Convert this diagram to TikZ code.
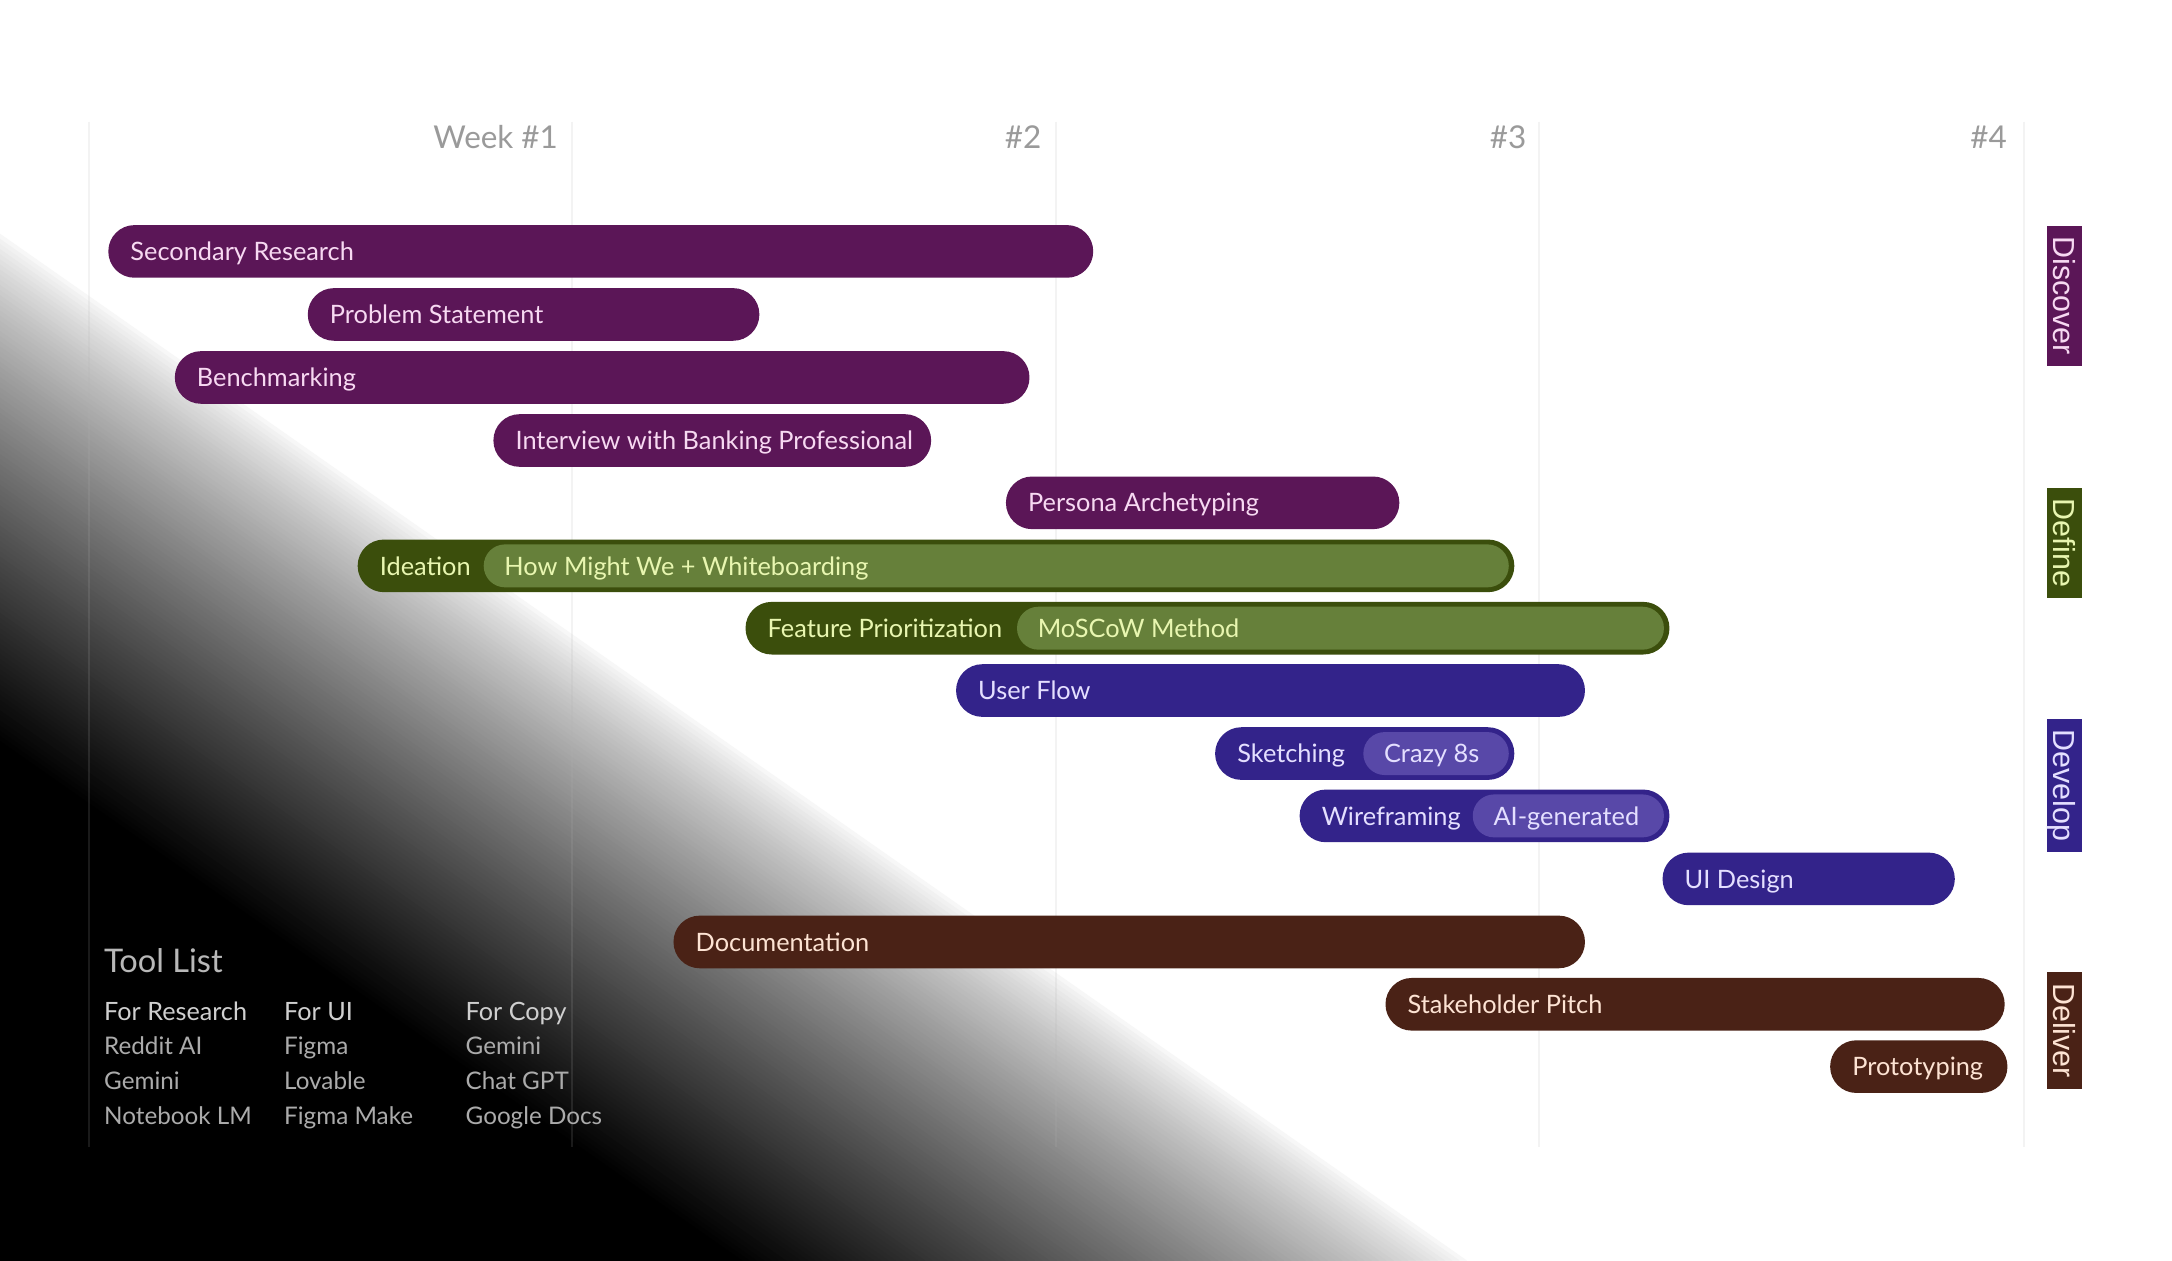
\documentclass[tikz,border=0pt]{standalone}
\usepackage{fontspec}
\setmainfont{Lato}
\newfontfamily\tagfont{Liberation Sans}
\usepackage{xcolor}
\definecolor{discover}{HTML}{5B1657}
\definecolor{discovertext}{HTML}{F7D9F2}
\definecolor{define}{HTML}{3B4E0C}
\definecolor{definelight}{HTML}{66803A}
\definecolor{definetext}{HTML}{E8F6B0}
\definecolor{develop}{HTML}{33238A}
\definecolor{developlight}{HTML}{5848A8}
\definecolor{developtext}{HTML}{E4DFFF}
\definecolor{deliver}{HTML}{4A2216}
\definecolor{delivertext}{HTML}{FDE3D3}
\definecolor{weekgray}{HTML}{9A9A9A}
\definecolor{tooltitle}{HTML}{B8B8B8}
\definecolor{toolhead}{HTML}{CFCFCF}
\definecolor{toolitem}{HTML}{ABABAB}
\tikzset{
  bar/.style={rounded corners=18.9pt,minimum height=38pt,inner xsep=16pt,inner ysep=0pt,anchor=west,text height=13.2pt,text depth=0pt,font=\fontsize{18.3}{18}\selectfont},
  discbar/.style={bar,fill=discover,text=discovertext},
  defbar/.style={bar,fill=define,text=definetext},
  devbar/.style={bar,fill=develop,text=developtext},
  delbar/.style={bar,fill=deliver,text=delivertext},
  method/.style={rounded corners=15.4pt,minimum height=31pt,inner xsep=15pt,inner ysep=0pt,anchor=east,text height=13.2pt,text depth=0pt,font=\fontsize{18.3}{18}\selectfont},
  phase/.style={rotate=-90,minimum height=25pt,inner sep=0pt,text height=15.8pt,text depth=0pt,font=\tagfont\fontsize{22}{22}\selectfont},
  week/.style={anchor=base east,inner sep=0pt,text=weekgray,font=\fontsize{22.7}{22}\selectfont},
  tool/.style={anchor=base west,inner sep=0pt,text=toolitem,font=\fontsize{17.5}{17}\selectfont},
  toolhead/.style={tool,text=toolhead,font=\fontsize{18.2}{18}\selectfont},
  weekline/.style={line width=1.5pt,draw=gray!60,opacity=.15}
}

\begin{document}
\begin{tikzpicture}[x=1pt,y=-1pt]
    \useasboundingbox[fill=white] (0,0) rectangle (1568,910);
    % dark corner, bottom left
    \foreach \i [evaluate=\i as \k using {100*(\i/100)^0.75}] in {1,...,100}
      \fill[black!\k!white] (0,{165+3.7*\i}) -- ({(745-3.7*\i)/0.7},910) -- (0,910) -- cycle;
    % weeks
    \draw[weekline] (64,88) -- (64,828);
    \draw[weekline] (413,88) -- (413,828);
    \draw[weekline] (762,88) -- (762,828);
    \draw[weekline] (1111,88) -- (1111,828);
    \draw[weekline] (1461,88) -- (1461,828);
    \node[week] (w1) at (403,107) {Week \#1};
    \node[week] (w2) at (752,107) {\#2};
    \node[week] (w3) at (1102,107) {\#3};
    \node[week] (w4) at (1449,107) {\#4};
    % discover
    \node[discbar] (secondary) at (78,181.5) {\makebox[679pt][l]{Secondary Research}};
    \node[discbar] (problem) at (222,227) {\makebox[294pt][l]{Problem Statement}};
    \node[discbar] (bench) at (126,272.5) {\makebox[585pt][l]{Benchmarking}};
    \node[discbar] (interview) at (356,318) {\makebox[284pt][l]{Interview with Banking Professional}};
    \node[discbar] (persona) at (726,363) {\makebox[252pt][l]{Persona Archetyping}};
    % define
    \node[defbar] (ideation) at (258,408.5) {\makebox[803pt][l]{Ideation}};
    \node[method,fill=definelight,text=definetext] (hmw) at ([xshift=-4pt]ideation.east) {\makebox[710pt][l]{How Might We + Whiteboarding}};
    \node[defbar] (feature) at (538,453.5) {\makebox[635pt][l]{Feature Prioritization}};
    \node[method,fill=definelight,text=definetext] (moscow) at ([xshift=-4pt]feature.east) {\makebox[437pt][l]{MoSCoW Method}};
    % develop
    \node[devbar] (userflow) at (690,498.5) {\makebox[422pt][l]{User Flow}};
    \node[devbar] (sketch) at (877,544) {\makebox[184pt][l]{Sketching}};
    \node[method,fill=developlight,text=developtext] (crazy) at ([xshift=-4pt]sketch.east) {\makebox[75pt][l]{Crazy 8s}};
    \node[devbar] (wire) at (938,589) {\makebox[235pt][l]{Wireframing}};
    \node[method,fill=developlight,text=developtext] (aigen) at ([xshift=-4pt]wire.east) {\makebox[108pt][l]{AI-generated}};
    \node[devbar] (uidesign) at (1200,634.5) {\makebox[179pt][l]{UI Design}};
    % deliver
    \node[delbar] (docs) at (486,680) {\makebox[626pt][l]{Documentation}};
    \node[delbar] (pitch) at (1000,725) {\makebox[415pt][l]{Stakeholder Pitch}};
    \node[delbar] (proto) at (1321,770) {\makebox[96pt][l]{Prototyping}};
    % phases
    \node[phase,fill=discover,text=discovertext,minimum width=101pt] (pdiscover) at (1490.5,213.5) {Discover};
    \node[phase,fill=define,text=definetext,minimum width=80pt] (pdefine) at (1490.5,392) {Define};
    \node[phase,fill=develop,text=developtext,minimum width=96pt] (pdevelop) at (1490.5,567) {Develop};
    \node[phase,fill=deliver,text=delivertext,minimum width=84pt] (pdeliver) at (1490.5,744) {Deliver};
    % tools
    \node[tool,text=tooltitle,font=\fontsize{23.5}{23}\selectfont] (toollist) at (75,702) {Tool List};
    \node[toolhead] (research) at (75,736.5) {For Research};
    \node[toolhead] (ui) at (205,736.5) {For UI};
    \node[toolhead] (copy) at (336,736.5) {For Copy};
    \node[tool] (reddit) at (75,761.5) {Reddit AI};
    \node[tool] (gemini) at (75,786.5) {Gemini};
    \node[tool] (notebook) at (75,811.8) {Notebook LM};
    \node[tool] (figma) at (205,761.5) {Figma};
    \node[tool] (lovable) at (205,786.5) {Lovable};
    \node[tool] (figmamake) at (205,811.8) {Figma Make};
    \node[tool] (gemini2) at (336,761.5) {Gemini};
    \node[tool] (chatgpt) at (336,786.5) {Chat GPT};
    \node[tool] (gdocs) at (336,811.8) {Google Docs};
  \end{tikzpicture}
\end{document}
